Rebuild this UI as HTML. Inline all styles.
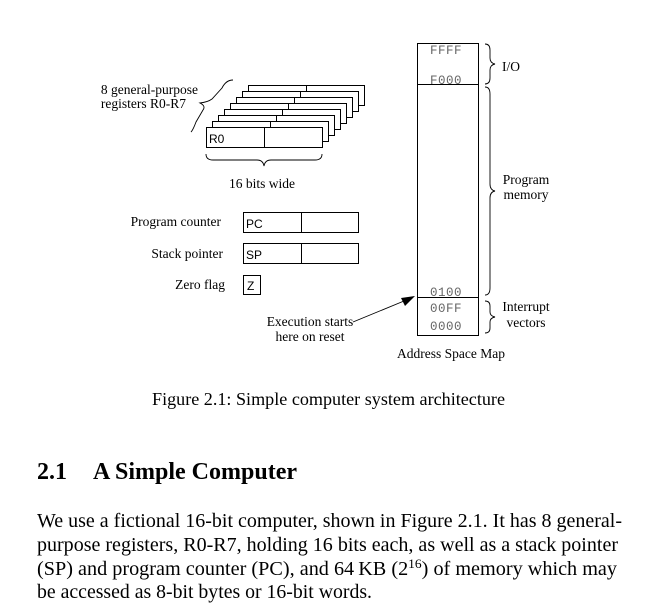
<!DOCTYPE html>
<html><head><style>
body{margin:0;background:#fff;width:651px;height:615px;overflow:hidden}
svg{position:absolute;left:0;top:0}
</style></head><body>
<svg width="651" height="615" xmlns="http://www.w3.org/2000/svg" font-family="Liberation Serif, serif">
<g fill="#fff" stroke="#000" stroke-width="1">
<rect x="248.5" y="85.5" width="116" height="20"/><line x1="306.5" y1="85" x2="306.5" y2="105"/>
<rect x="242.5" y="91.5" width="116" height="20"/><line x1="300.5" y1="91" x2="300.5" y2="111"/>
<rect x="236.5" y="97.5" width="116" height="20"/><line x1="294.5" y1="97" x2="294.5" y2="117"/>
<rect x="230.5" y="103.5" width="116" height="20"/><line x1="288.5" y1="103" x2="288.5" y2="123"/>
<rect x="224.5" y="109.5" width="116" height="20"/><line x1="282.5" y1="109" x2="282.5" y2="129"/>
<rect x="218.5" y="115.5" width="116" height="20"/><line x1="276.5" y1="115" x2="276.5" y2="135"/>
<rect x="212.5" y="121.5" width="116" height="20"/><line x1="270.5" y1="121" x2="270.5" y2="141"/>
<rect x="206.5" y="127.5" width="116" height="20"/><line x1="264.5" y1="127" x2="264.5" y2="147"/>
<rect x="243.5" y="212.5" width="115" height="20"/><line x1="301.5" y1="212" x2="301.5" y2="232"/>
<rect x="243.5" y="243.5" width="115" height="20"/><line x1="301.5" y1="243" x2="301.5" y2="263"/>
<rect x="243.5" y="275.5" width="17" height="19"/>
<rect x="417.5" y="43.5" width="61" height="292"/>
<line x1="417" y1="84.5" x2="478" y2="84.5"/>
<line x1="417" y1="297.5" x2="478" y2="297.5"/>
</g>
<g font-family="Liberation Sans, sans-serif" font-size="12">
<text x="209" y="143">R0</text>
<text x="246" y="228">PC</text>
<text x="246" y="259">SP</text>
<text x="247" y="290">Z</text>
</g>
<g font-size="13.5" fill="#000">
<text x="198" y="94" text-anchor="end">8 general-purpose</text>
<text x="186" y="108" text-anchor="end">registers R0-R7</text>
<text x="262" y="188" text-anchor="middle">16 bits wide</text>
<text x="221" y="226" text-anchor="end">Program counter</text>
<text x="223" y="258" text-anchor="end">Stack pointer</text>
<text x="225" y="289" text-anchor="end">Zero flag</text>
<text x="502" y="71">I/O</text>
<text x="526" y="184" text-anchor="middle">Program</text>
<text x="526" y="199" text-anchor="middle">memory</text>
<text x="526" y="311" text-anchor="middle">Interrupt</text>
<text x="526" y="327" text-anchor="middle">vectors</text>
<text x="451" y="358" text-anchor="middle">Address Space Map</text>
<text x="310" y="326" text-anchor="middle">Execution starts</text>
<text x="310" y="341" text-anchor="middle">here on reset</text>
</g>
<g font-family="Liberation Mono, monospace" font-size="12.5" fill="#666" letter-spacing="0.5">
<text x="430" y="54">FFFF</text>
<text x="430" y="84">F000</text>
<text x="430" y="296">0100</text>
<text x="430" y="312">00FF</text>
<text x="430" y="330">0000</text>
</g>
<g fill="none" stroke="#000" stroke-width="0.9">
<path d="M206,154 Q206,160 213,160 L257,160 Q263,160 264,166 Q265,160 271,160 L315,160 Q322,160 322,154"/>
<path d="M485,44 Q490,44 490,50 L490,58 Q490,63 495,64 Q490,65 490,70 L490,78 Q490,84 485,84"/>
<path d="M485,87 Q490,87 490,94 L490,184 Q490,190 495,191 Q490,192 490,198 L490,288 Q490,295 485,295"/>
<path d="M485,301 Q490,301 490,306 L490,312 Q490,316 495,317 Q490,318 490,322 L490,328 Q490,333 485,333"/>
<path d="M233,80 Q226,80 222,88 L212,99 Q208,102 200,103 Q206,106 203,110 L196,122 Q193,130 191,132"/>
<line x1="353" y1="322" x2="404" y2="301"/>
</g>
<polygon points="415,296 401,298 405,306" fill="#000"/>
<text x="152" y="405" font-size="18" textLength="353" lengthAdjust="spacingAndGlyphs">Figure 2.1: Simple computer system architecture</text>
<text x="37" y="479" font-size="24" font-weight="bold" textLength="30" lengthAdjust="spacingAndGlyphs">2.1</text>
<text x="93" y="479" font-size="24" font-weight="bold" textLength="204" lengthAdjust="spacingAndGlyphs">A Simple Computer</text>
<g font-size="19.5">
<text x="37" y="527" textLength="585" lengthAdjust="spacingAndGlyphs">We use a fictional 16-bit computer, shown in Figure 2.1. It has 8 general-</text>
<text x="37" y="551" textLength="581" lengthAdjust="spacingAndGlyphs">purpose registers, R0-R7, holding 16 bits each, as well as a stack pointer</text>
<text x="37" y="575" textLength="580" lengthAdjust="spacingAndGlyphs">(SP) and program counter (PC), and 64&#8201;KB (2<tspan font-size="13" dy="-7">16</tspan><tspan dy="7">) of memory which may</tspan></text>
<text x="37" y="598" textLength="335" lengthAdjust="spacingAndGlyphs">be accessed as 8-bit bytes or 16-bit words.</text>
</g>
</svg>
</body></html>
